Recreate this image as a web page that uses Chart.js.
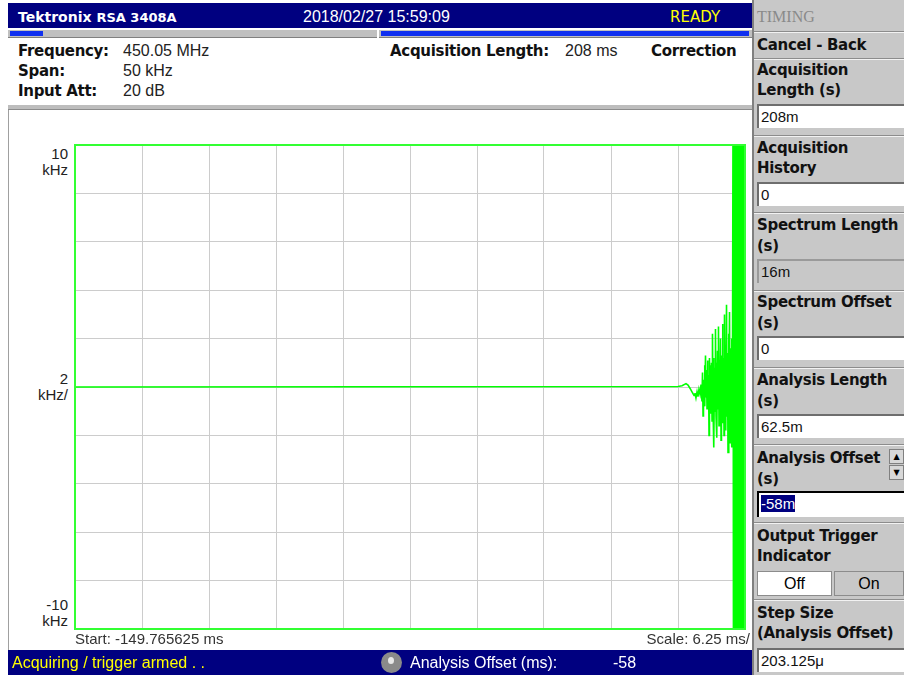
<!DOCTYPE html>
<html>
<head>
<meta charset="utf-8">
<script src="https://cdn.jsdelivr.net/npm/chart.js@4/dist/chart.umd.min.js"></script>
<style>
  body { margin: 0; width: 904px; height: 675px; background: #fff; position: relative; overflow: hidden; font-family: "DejaVu Sans", sans-serif; }
  .a { position: absolute; white-space: nowrap; line-height: 20px; }
  .bar { position: absolute; background: #000080; }
  .lbl { font-size: 15px; font-weight: 600; color: #111; letter-spacing: -0.3px; }
  .val { font-family: "Liberation Sans", sans-serif; font-size: 16px; color: #222; }
  .side { position: absolute; left: 752px; top: 0; width: 152px; height: 675px; background: #c8c8c8; border-left: 2px solid #808080; box-sizing: border-box; }
  .sec { position: absolute; left: 754px; width: 150px; border-top: 1px solid #8c8c8c; box-shadow: inset 0 1px 0 #f2f2f2; }
  .box { position: absolute; left: 757px; width: 150px; height: 24px; background: #fff; border-top: 2px solid #6e6e6e; border-left: 2px solid #6e6e6e; box-sizing: border-box; font-family: "Liberation Sans", sans-serif; font-size: 15px; line-height: 21px; padding-left: 2px; color: #111; }
  .ylab { position: absolute; width: 60px; text-align: right; font-family: "Liberation Sans", sans-serif; font-size: 15px; line-height: 16px; color: #222; }
</style>
</head>
<body>
<!-- title bar -->
<div class="bar" style="left:8px;top:3px;width:744px;height:25px;"></div>
<div class="a" style="left:18px;top:7px;color:#fff;font-size:14px;font-weight:bold;">Tektronix <span style="font-size:13px">RSA 3408A</span></div>
<div class="a" style="left:303px;top:7px;color:#fff;font-family:'Liberation Sans',sans-serif;font-size:16px;">2018/02/27 15:59:09</div>
<div class="a" style="left:670px;top:7px;color:#ffff00;font-size:15px;">READY</div>
<!-- progress row -->
<div style="position:absolute;left:8px;top:29px;width:744px;height:9px;background:#c0c0c0;border-top:1px solid #fff;border-bottom:1px solid #808080;box-sizing:border-box;"></div>
<div style="position:absolute;left:10px;top:31px;width:33px;height:5px;background:#1030f0;"></div>
<div style="position:absolute;left:377px;top:29px;width:2px;height:9px;background:#fff;"></div>
<div style="position:absolute;left:381px;top:31px;width:368px;height:5px;background:#1030f0;"></div>
<!-- info area -->
<div class="a lbl" style="left:18px;top:41px;">Frequency:</div>
<div class="a val" style="left:123px;top:41px;">450.05 MHz</div>
<div class="a lbl" style="left:18px;top:61px;">Span:</div>
<div class="a val" style="left:123px;top:61px;">50 kHz</div>
<div class="a lbl" style="left:18px;top:81px;">Input Att:</div>
<div class="a val" style="left:123px;top:81px;">20 dB</div>
<div class="a lbl" style="left:390px;top:41px;">Acquisition Length:</div>
<div class="a val" style="left:565px;top:41px;">208 ms</div>
<div class="a lbl" style="left:651px;top:41px;">Correction</div>
<div style="position:absolute;left:8px;top:105px;width:744px;height:4px;background:#bdbdbd;border-bottom:1px solid #8c8c8c;"></div>
<!-- plot frame -->
<div style="position:absolute;left:8px;top:110px;width:1px;height:540px;background:#a0a0a0;"></div>
<div class="ylab" style="left:8px;top:146px;">10<br>kHz</div>
<div class="ylab" style="left:8px;top:371px;">2<br>kHz/</div>
<div class="ylab" style="left:8px;top:597px;">-10<br>kHz</div>
<div style="position:absolute;left:70px;top:140px;width:680px;height:494px;">
  <canvas id="traceChart" width="680" height="494"></canvas>
</div>
<div class="a" style="left:75px;top:629px;font-family:'Liberation Sans',sans-serif;font-size:15px;color:#333;">Start: -149.765625 ms</div>
<div class="a" style="left:610px;top:629px;width:140px;text-align:right;font-family:'Liberation Sans',sans-serif;font-size:15px;color:#333;">Scale: 6.25 ms/</div>
<!-- status bar -->
<div class="bar" style="left:8px;top:650px;width:744px;height:25px;"></div>
<div class="a" style="left:12px;top:653px;color:#ffff00;font-family:'Liberation Sans',sans-serif;font-size:16px;">Acquiring / trigger armed . .</div>
<div style="position:absolute;left:381px;top:652px;width:21px;height:21px;border-radius:50%;background:#8a8a8a;"></div>
<div style="position:absolute;left:388px;top:657px;width:6px;height:7px;border-radius:50%;background:#e8e8e8;"></div>
<div class="a" style="left:410px;top:653px;color:#fff;font-family:'Liberation Sans',sans-serif;font-size:16px;">Analysis Offset (ms):</div>
<div class="a" style="left:613px;top:653px;color:#fff;font-family:'Liberation Sans',sans-serif;font-size:16px;">-58</div>
<!-- side panel -->
<div class="side"></div>
<div class="a" style="left:757px;top:7px;color:#8a8a8a;font-family:'Liberation Serif',serif;font-size:16px;">TIMING</div>
<div class="sec" style="top:31px;height:26px;"></div>
<div class="a lbl" style="left:757px;top:35px;">Cancel - Back</div>
<div class="sec" style="top:58px;height:76px;"></div>
<div class="a lbl" style="left:757px;top:60px;">Acquisition</div>
<div class="a lbl" style="left:757px;top:80px;">Length (s)</div>
<div class="box" style="top:104px;">208m</div>
<div class="sec" style="top:135px;height:76px;"></div>
<div class="a lbl" style="left:757px;top:138px;">Acquisition</div>
<div class="a lbl" style="left:757px;top:158px;">History</div>
<div class="box" style="top:182px;">0</div>
<div class="sec" style="top:212px;height:76px;"></div>
<div class="a lbl" style="left:757px;top:215px;">Spectrum Length</div>
<div class="a lbl" style="left:757px;top:236px;">(s)</div>
<div class="box" style="top:259px;background:#c8c8c8;border-color:#9a9a9a;">16m</div>
<div class="sec" style="top:290px;height:76px;"></div>
<div class="a lbl" style="left:757px;top:292px;">Spectrum Offset</div>
<div class="a lbl" style="left:757px;top:313px;">(s)</div>
<div class="box" style="top:336px;">0</div>
<div class="sec" style="top:367px;height:76px;"></div>
<div class="a lbl" style="left:757px;top:370px;">Analysis Length</div>
<div class="a lbl" style="left:757px;top:391px;">(s)</div>
<div class="box" style="top:414px;">62.5m</div>
<div class="sec" style="top:444px;height:76px;"></div>
<div class="a lbl" style="left:757px;top:448px;">Analysis Offset</div>
<div class="a lbl" style="left:757px;top:469px;">(s)</div>
<div style="position:absolute;left:889px;top:449px;width:15px;height:15px;background:#d8d8d8;border:1px solid #808080;box-sizing:border-box;font-size:8px;line-height:13px;text-align:center;">&#9650;</div>
<div style="position:absolute;left:889px;top:465px;width:15px;height:15px;background:#d8d8d8;border:1px solid #808080;box-sizing:border-box;font-size:8px;line-height:13px;text-align:center;">&#9660;</div>
<div class="box" style="top:491px;height:26px;border-color:#000;"><span style="background:#000080;color:#fff;">-58m</span></div>
<div class="sec" style="top:522px;height:76px;"></div>
<div class="a lbl" style="left:757px;top:526px;">Output Trigger</div>
<div class="a lbl" style="left:757px;top:546px;">Indicator</div>
<div style="position:absolute;left:757px;top:571px;width:75px;height:25px;background:#fff;border:1px solid #8c8c8c;box-sizing:border-box;text-align:center;font-family:'Liberation Sans',sans-serif;font-size:16px;line-height:23px;">Off</div>
<div style="position:absolute;left:834px;top:571px;width:70px;height:25px;background:#c8c8c8;border:1px solid #8c8c8c;box-sizing:border-box;text-align:center;font-family:'Liberation Sans',sans-serif;font-size:16px;line-height:23px;">On</div>
<div class="sec" style="top:599px;height:76px;"></div>
<div class="a lbl" style="left:757px;top:603px;">Step Size</div>
<div class="a lbl" style="left:757px;top:623px;">(Analysis Offset)</div>
<div class="box" style="top:648px;">203.125μ</div>

<script>
// time axis settings from the instrument readout
const startMs = -149.765625;
const scaleMsPerDiv = 6.25;
const yMinKHz = -10;
const yMaxKHz = 10;
const yStepKHz = 2;

// demodulated frequency trace (ms, kHz)
const traceTimeMs = [
  -149.77, -93.52, -93.14, -92.77, -92.58, -92.40, -92.21, -92.02, -91.93, -91.84,
  -91.74, -91.65, -91.56, -91.46, -91.37, -91.28, -91.23, -91.18, -91.14, -91.09,
  -91.04, -91.00, -90.95, -90.90, -90.86, -90.81, -90.76, -90.72, -90.67, -90.62,
  -90.58, -90.53, -90.48, -90.44, -90.39, -90.34, -90.30, -90.25, -90.20, -90.16,
  -90.11, -90.06, -90.02, -89.97, -89.92, -89.88, -89.83, -89.78, -89.74, -89.69,
  -89.64, -89.60, -89.55, -89.50, -89.46, -89.41, -89.36, -89.32, -89.27, -89.22,
  -89.18, -89.13, -89.08, -89.04, -88.99, -88.94, -88.90, -88.85, -88.80, -88.76,
  -88.71, -88.66, -88.62, -88.57, -88.52, -88.48, -88.43,
  // saturated (clipped) part at the right edge
  -88.38, -88.34, -88.29, -88.24, -88.20, -88.15, -88.10, -88.06, -88.01, -87.96,
  -87.92, -87.87, -87.82, -87.78, -87.73, -87.68, -87.64, -87.59, -87.54, -87.50,
  -87.45, -87.40, -87.36, -87.31, -87.27, -87.22, -87.18
];
const traceKHz = [
  0, 0.02, 0.05, 0.14, 0.08, -0.05, -0.2, -0.35, -0.25, -0.45,
  -0.2, -0.4, -0.1, -0.3, 0.1, -0.6, 0.6, -1.2, 0.3, -0.5,
  0.9, -0.8, 1.3, -0.4, 0.7, -0.9, 1.1, -0.6, 0.5, -2.0,
  1.2, -0.7, 0.9, -1.1, 1.0, -1.4, 2.2, -0.8, 1.2, -2.5,
  0.8, -1.0, 2.4, -1.2, 1.0, -2.1, 1.5, -0.9, 2.5, -1.6,
  1.1, -1.0, 2.0, -2.2, 1.3, -1.1, 2.6, -1.5, 1.2, -2.0,
  3.0, -1.0, 1.5, -1.8, 3.4, -1.2, 1.4, -2.7, 2.2, -1.3,
  3.1, -2.3, 1.6, -1.4, 2.0, -2.5, 1.5,
  12, -12, 12, -12, 12, -12, 12, -12, 12, -12,
  12, -12, 12, -12, 12, -12, 12, -12, 12, -12,
  12, -12, 12, -12, 12, -12, 12
];

const framePlugin = {
  id: 'frame',
  afterDatasetsDraw(chart) {
    const { ctx, chartArea: a } = chart;
    ctx.save();
    ctx.strokeStyle = '#33ff33';
    ctx.lineWidth = 2;
    ctx.strokeRect(a.left, a.top, a.right - a.left, a.bottom - a.top);
    ctx.restore();
  }
};

const ctx = document.getElementById('traceChart');
new Chart(ctx, {
  type: 'line',
  data: {
    datasets: [{
      data: traceTimeMs.map((t, i) => ({ x: t, y: traceKHz[i] })),
      borderColor: '#00ff00',
      borderWidth: 1.6,
      pointRadius: 0,
      tension: 0
    }]
  },
  options: {
    responsive: false,
    animation: false,
    layout: { padding: 5 },
    plugins: { legend: { display: false }, tooltip: { enabled: false } },
    scales: {
      x: {
        type: 'linear',
        min: startMs,
        max: startMs + 10 * scaleMsPerDiv,
        afterBuildTicks: scale => {
          scale.ticks = [];
          for (let i = 0; i <= 10; i++) scale.ticks.push({ value: startMs + i * scaleMsPerDiv });
        },
        ticks: { display: false },
        grid: { color: '#cccccc', drawTicks: false },
        border: { display: false }
      },
      y: {
        min: yMinKHz,
        max: yMaxKHz,
        ticks: { display: false, stepSize: yStepKHz },
        grid: { color: '#cccccc', drawTicks: false },
        border: { display: false }
      }
    }
  },
  plugins: [framePlugin]
});
</script>
</body>
</html>
